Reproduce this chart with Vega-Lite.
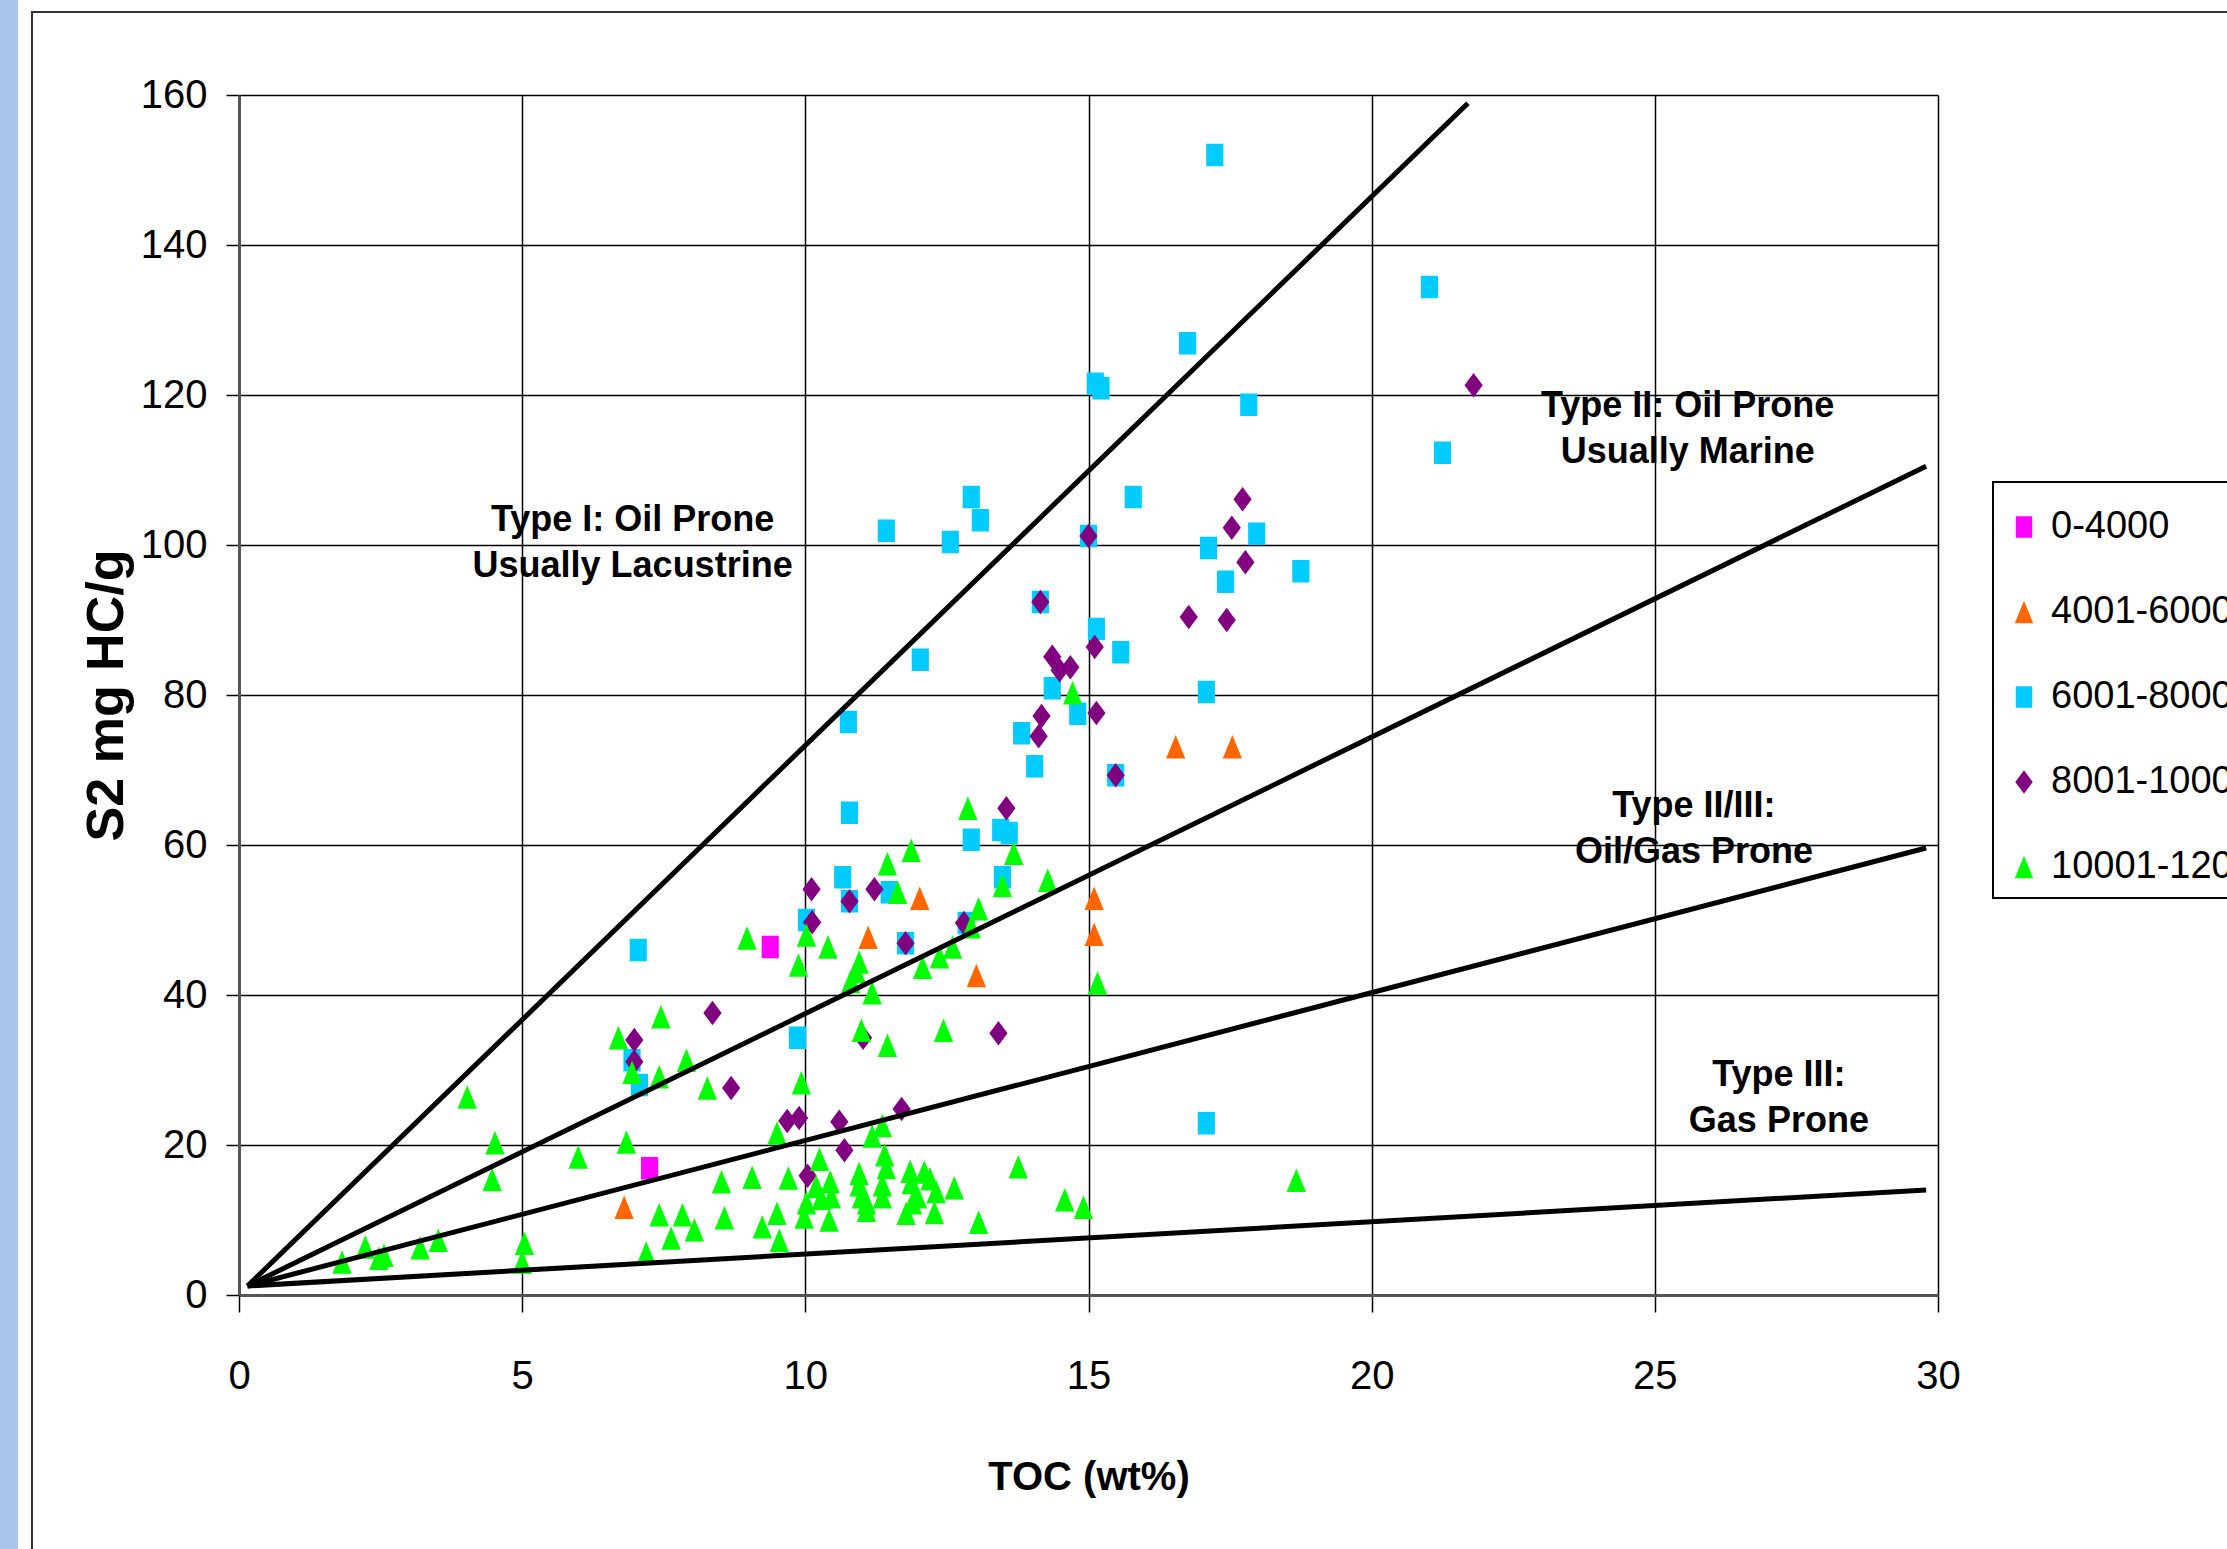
{
  "$schema": "https://vega.github.io/schema/vega-lite/v6.json",
  "width": 1699,
  "height": 1200,
  "autosize": "none",
  "padding": {"left": 239, "top": 95, "right": 289, "bottom": 254},
  "background": "white",
  "config": {
    "view": {"stroke": null},
    "font": "Liberation Sans",
    "axis": {
      "grid": true,
      "gridColor": "black",
      "gridWidth": 1.5,
      "gridOpacity": 1,
      "domainColor": "#555555",
      "domainWidth": 3,
      "tickColor": "black",
      "tickWidth": 1.5,
      "labelColor": "black",
      "labelFont": "Liberation Sans",
      "labelFontSize": 40,
      "labelOverlap": false,
      "labelFlush": false,
      "titleColor": "black",
      "titleFont": "Liberation Sans",
      "titleFontWeight": "bold"
    },
    "axisX": {
      "tickSize": 17,
      "labelPadding": 44,
      "titleFontSize": 40,
      "titleY": 182,
      "titleBaseline": "middle"
    },
    "axisY": {
      "tickSize": 13,
      "labelPadding": 19,
      "titleFontSize": 52,
      "titleAngle": 270,
      "titleX": -117,
      "titleY": 600,
      "titleAlign": "center",
      "titleBaseline": "alphabetic"
    },
    "legend": {
      "orient": "none",
      "legendX": 1754,
      "legendY": 387,
      "padding": 12,
      "strokeColor": "black",
      "strokeWidth": 2,
      "fillColor": "white",
      "titleFontSize": 14,
      "titlePadding": 0,
      "labelFont": "Liberation Sans",
      "labelFontSize": 38,
      "labelColor": "black",
      "labelLimit": 500,
      "symbolSize": 420,
      "rowPadding": 47,
      "labelOffset": 8,
      "symbolStrokeWidth": 0,
      "symbolOpacity": 1
    }
  },
  "datasets": {
    "samples": [
      {"depth": "0-4000", "toc": 9.38, "s2": 46.4},
      {"depth": "0-4000", "toc": 7.25, "s2": 16.9},
      {"depth": "4001-6000", "toc": 16.54, "s2": 73.1},
      {"depth": "4001-6000", "toc": 17.54, "s2": 73.1},
      {"depth": "4001-6000", "toc": 15.1, "s2": 52.9},
      {"depth": "4001-6000", "toc": 15.1, "s2": 48.1},
      {"depth": "4001-6000", "toc": 12.02, "s2": 52.9},
      {"depth": "4001-6000", "toc": 11.11, "s2": 47.7},
      {"depth": "4001-6000", "toc": 13.02, "s2": 42.6},
      {"depth": "4001-6000", "toc": 6.8, "s2": 11.7},
      {"depth": "6001-8000", "toc": 17.23, "s2": 152.0},
      {"depth": "6001-8000", "toc": 21.02, "s2": 134.4},
      {"depth": "6001-8000", "toc": 16.75, "s2": 126.9},
      {"depth": "6001-8000", "toc": 15.12, "s2": 121.5},
      {"depth": "6001-8000", "toc": 15.22, "s2": 120.9},
      {"depth": "6001-8000", "toc": 17.83, "s2": 118.7},
      {"depth": "6001-8000", "toc": 21.25, "s2": 112.3},
      {"depth": "6001-8000", "toc": 12.93, "s2": 106.4},
      {"depth": "6001-8000", "toc": 15.79, "s2": 106.4},
      {"depth": "6001-8000", "toc": 13.09, "s2": 103.3},
      {"depth": "6001-8000", "toc": 11.43, "s2": 101.9},
      {"depth": "6001-8000", "toc": 12.56, "s2": 100.4},
      {"depth": "6001-8000", "toc": 15.0, "s2": 101.2},
      {"depth": "6001-8000", "toc": 17.12, "s2": 99.6},
      {"depth": "6001-8000", "toc": 17.97, "s2": 101.5},
      {"depth": "6001-8000", "toc": 18.75, "s2": 96.5},
      {"depth": "6001-8000", "toc": 17.42, "s2": 95.1},
      {"depth": "6001-8000", "toc": 14.15, "s2": 92.4},
      {"depth": "6001-8000", "toc": 15.14, "s2": 88.8},
      {"depth": "6001-8000", "toc": 15.57, "s2": 85.7},
      {"depth": "6001-8000", "toc": 12.03, "s2": 84.7},
      {"depth": "6001-8000", "toc": 14.36, "s2": 80.9},
      {"depth": "6001-8000", "toc": 17.08, "s2": 80.4},
      {"depth": "6001-8000", "toc": 14.81, "s2": 77.5},
      {"depth": "6001-8000", "toc": 10.76, "s2": 76.4},
      {"depth": "6001-8000", "toc": 13.82, "s2": 74.9},
      {"depth": "6001-8000", "toc": 14.05, "s2": 70.5},
      {"depth": "6001-8000", "toc": 15.48, "s2": 69.3},
      {"depth": "6001-8000", "toc": 10.78, "s2": 64.3},
      {"depth": "6001-8000", "toc": 13.45, "s2": 62.0},
      {"depth": "6001-8000", "toc": 13.6, "s2": 61.6},
      {"depth": "6001-8000", "toc": 12.93, "s2": 60.7},
      {"depth": "6001-8000", "toc": 10.66, "s2": 55.7},
      {"depth": "6001-8000", "toc": 13.48, "s2": 55.7},
      {"depth": "6001-8000", "toc": 11.48, "s2": 53.7},
      {"depth": "6001-8000", "toc": 10.78, "s2": 52.5},
      {"depth": "6001-8000", "toc": 10.02, "s2": 50.0},
      {"depth": "6001-8000", "toc": 12.84, "s2": 49.6},
      {"depth": "6001-8000", "toc": 11.77, "s2": 46.9},
      {"depth": "6001-8000", "toc": 7.05, "s2": 46.0},
      {"depth": "6001-8000", "toc": 9.86, "s2": 34.3},
      {"depth": "6001-8000", "toc": 6.94, "s2": 31.3},
      {"depth": "6001-8000", "toc": 7.07, "s2": 28.0},
      {"depth": "6001-8000", "toc": 17.08, "s2": 22.9},
      {"depth": "8001-10000", "toc": 21.8, "s2": 121.3},
      {"depth": "8001-10000", "toc": 17.72, "s2": 106.1},
      {"depth": "8001-10000", "toc": 17.53, "s2": 102.3},
      {"depth": "8001-10000", "toc": 17.77, "s2": 97.7},
      {"depth": "8001-10000", "toc": 15.0, "s2": 101.2},
      {"depth": "8001-10000", "toc": 14.15, "s2": 92.4},
      {"depth": "8001-10000", "toc": 16.77, "s2": 90.4},
      {"depth": "8001-10000", "toc": 17.44, "s2": 90.0},
      {"depth": "8001-10000", "toc": 15.11, "s2": 86.4},
      {"depth": "8001-10000", "toc": 14.36, "s2": 85.1},
      {"depth": "8001-10000", "toc": 14.49, "s2": 83.3},
      {"depth": "8001-10000", "toc": 14.68, "s2": 83.7},
      {"depth": "8001-10000", "toc": 15.14, "s2": 77.6},
      {"depth": "8001-10000", "toc": 14.17, "s2": 77.2},
      {"depth": "8001-10000", "toc": 14.12, "s2": 74.5},
      {"depth": "8001-10000", "toc": 15.48, "s2": 69.3},
      {"depth": "8001-10000", "toc": 13.55, "s2": 64.9},
      {"depth": "8001-10000", "toc": 10.11, "s2": 54.1},
      {"depth": "8001-10000", "toc": 11.22, "s2": 54.1},
      {"depth": "8001-10000", "toc": 10.78, "s2": 52.5},
      {"depth": "8001-10000", "toc": 10.12, "s2": 49.7},
      {"depth": "8001-10000", "toc": 11.77, "s2": 46.9},
      {"depth": "8001-10000", "toc": 12.8, "s2": 49.6},
      {"depth": "8001-10000", "toc": 8.36, "s2": 37.6},
      {"depth": "8001-10000", "toc": 11.02, "s2": 34.3},
      {"depth": "8001-10000", "toc": 13.41, "s2": 34.9},
      {"depth": "8001-10000", "toc": 6.98, "s2": 34.0},
      {"depth": "8001-10000", "toc": 6.98, "s2": 31.1},
      {"depth": "8001-10000", "toc": 8.69, "s2": 27.6},
      {"depth": "8001-10000", "toc": 9.68, "s2": 23.2},
      {"depth": "8001-10000", "toc": 9.89, "s2": 23.6},
      {"depth": "8001-10000", "toc": 10.6, "s2": 23.1},
      {"depth": "8001-10000", "toc": 11.7, "s2": 24.8},
      {"depth": "8001-10000", "toc": 10.69, "s2": 19.3},
      {"depth": "8001-10000", "toc": 10.04, "s2": 15.9},
      {"depth": "10001-12000", "toc": 14.72, "s2": 80.3},
      {"depth": "10001-12000", "toc": 12.87, "s2": 64.9},
      {"depth": "10001-12000", "toc": 11.87, "s2": 59.3},
      {"depth": "10001-12000", "toc": 13.68, "s2": 58.9},
      {"depth": "10001-12000", "toc": 11.45, "s2": 57.5},
      {"depth": "10001-12000", "toc": 13.48, "s2": 54.6},
      {"depth": "10001-12000", "toc": 14.28, "s2": 55.3},
      {"depth": "10001-12000", "toc": 11.63, "s2": 53.7},
      {"depth": "10001-12000", "toc": 13.06, "s2": 51.5},
      {"depth": "10001-12000", "toc": 12.93, "s2": 49.1},
      {"depth": "10001-12000", "toc": 10.02, "s2": 48.0},
      {"depth": "10001-12000", "toc": 8.97, "s2": 47.6},
      {"depth": "10001-12000", "toc": 10.4, "s2": 46.4},
      {"depth": "10001-12000", "toc": 12.6, "s2": 46.4},
      {"depth": "10001-12000", "toc": 12.37, "s2": 45.1},
      {"depth": "10001-12000", "toc": 12.07, "s2": 43.7},
      {"depth": "10001-12000", "toc": 9.88, "s2": 44.0},
      {"depth": "10001-12000", "toc": 10.95, "s2": 44.4},
      {"depth": "10001-12000", "toc": 10.9, "s2": 43.1},
      {"depth": "10001-12000", "toc": 10.8, "s2": 41.8},
      {"depth": "10001-12000", "toc": 11.18, "s2": 40.3},
      {"depth": "10001-12000", "toc": 15.16, "s2": 41.6},
      {"depth": "10001-12000", "toc": 7.45, "s2": 37.1},
      {"depth": "10001-12000", "toc": 6.7, "s2": 34.3},
      {"depth": "10001-12000", "toc": 10.99, "s2": 35.3},
      {"depth": "10001-12000", "toc": 11.45, "s2": 33.3},
      {"depth": "10001-12000", "toc": 12.44, "s2": 35.3},
      {"depth": "10001-12000", "toc": 7.9, "s2": 31.3},
      {"depth": "10001-12000", "toc": 6.94, "s2": 29.7},
      {"depth": "10001-12000", "toc": 7.42, "s2": 29.1},
      {"depth": "10001-12000", "toc": 8.27, "s2": 27.6},
      {"depth": "10001-12000", "toc": 9.93, "s2": 28.3},
      {"depth": "10001-12000", "toc": 4.03, "s2": 26.4},
      {"depth": "10001-12000", "toc": 9.5, "s2": 21.6},
      {"depth": "10001-12000", "toc": 11.18, "s2": 21.2},
      {"depth": "10001-12000", "toc": 11.36, "s2": 22.6},
      {"depth": "10001-12000", "toc": 4.52, "s2": 20.3},
      {"depth": "10001-12000", "toc": 6.84, "s2": 20.4},
      {"depth": "10001-12000", "toc": 5.99, "s2": 18.4},
      {"depth": "10001-12000", "toc": 10.25, "s2": 18.1},
      {"depth": "10001-12000", "toc": 11.4, "s2": 18.7},
      {"depth": "10001-12000", "toc": 4.47, "s2": 15.4},
      {"depth": "10001-12000", "toc": 13.76, "s2": 17.1},
      {"depth": "10001-12000", "toc": 18.67, "s2": 15.3},
      {"depth": "10001-12000", "toc": 8.52, "s2": 15.1},
      {"depth": "10001-12000", "toc": 9.06, "s2": 15.7},
      {"depth": "10001-12000", "toc": 9.7, "s2": 15.6},
      {"depth": "10001-12000", "toc": 10.19, "s2": 14.5},
      {"depth": "10001-12000", "toc": 10.44, "s2": 15.1},
      {"depth": "10001-12000", "toc": 10.95, "s2": 16.2},
      {"depth": "10001-12000", "toc": 10.95, "s2": 14.7},
      {"depth": "10001-12000", "toc": 11.43, "s2": 17.0},
      {"depth": "10001-12000", "toc": 11.36, "s2": 14.7},
      {"depth": "10001-12000", "toc": 11.85, "s2": 16.5},
      {"depth": "10001-12000", "toc": 11.87, "s2": 15.0},
      {"depth": "10001-12000", "toc": 12.1, "s2": 16.4},
      {"depth": "10001-12000", "toc": 12.2, "s2": 15.5},
      {"depth": "10001-12000", "toc": 12.31, "s2": 13.8},
      {"depth": "10001-12000", "toc": 12.63, "s2": 14.3},
      {"depth": "10001-12000", "toc": 10.02, "s2": 12.3},
      {"depth": "10001-12000", "toc": 10.28, "s2": 12.9},
      {"depth": "10001-12000", "toc": 10.46, "s2": 13.1},
      {"depth": "10001-12000", "toc": 10.99, "s2": 13.1},
      {"depth": "10001-12000", "toc": 11.08, "s2": 12.3},
      {"depth": "10001-12000", "toc": 11.36, "s2": 13.1},
      {"depth": "10001-12000", "toc": 11.89, "s2": 12.3},
      {"depth": "10001-12000", "toc": 11.98, "s2": 13.1},
      {"depth": "10001-12000", "toc": 11.78, "s2": 10.9},
      {"depth": "10001-12000", "toc": 12.28, "s2": 11.0},
      {"depth": "10001-12000", "toc": 9.5, "s2": 10.9},
      {"depth": "10001-12000", "toc": 9.98, "s2": 10.4},
      {"depth": "10001-12000", "toc": 10.42, "s2": 10.0},
      {"depth": "10001-12000", "toc": 11.08, "s2": 11.3},
      {"depth": "10001-12000", "toc": 9.24, "s2": 9.1},
      {"depth": "10001-12000", "toc": 9.54, "s2": 7.3},
      {"depth": "10001-12000", "toc": 13.06, "s2": 9.7},
      {"depth": "10001-12000", "toc": 14.58, "s2": 12.7},
      {"depth": "10001-12000", "toc": 14.91, "s2": 11.7},
      {"depth": "10001-12000", "toc": 7.42, "s2": 10.7},
      {"depth": "10001-12000", "toc": 7.83, "s2": 10.7},
      {"depth": "10001-12000", "toc": 8.04, "s2": 8.7},
      {"depth": "10001-12000", "toc": 7.63, "s2": 7.6},
      {"depth": "10001-12000", "toc": 8.57, "s2": 10.3},
      {"depth": "10001-12000", "toc": 7.19, "s2": 5.6},
      {"depth": "10001-12000", "toc": 1.82, "s2": 4.4},
      {"depth": "10001-12000", "toc": 2.23, "s2": 6.4},
      {"depth": "10001-12000", "toc": 2.47, "s2": 4.9},
      {"depth": "10001-12000", "toc": 2.56, "s2": 5.3},
      {"depth": "10001-12000", "toc": 3.2, "s2": 6.3},
      {"depth": "10001-12000", "toc": 3.52, "s2": 7.3},
      {"depth": "10001-12000", "toc": 5.04, "s2": 6.9},
      {"depth": "10001-12000", "toc": 5.0, "s2": 4.4}
    ],
    "typelines": [
      {"line": "I", "toc": 0.15, "s2": 1.2},
      {"line": "I", "toc": 21.7, "s2": 158.9},
      {"line": "II", "toc": 0.15, "s2": 1.2},
      {"line": "II", "toc": 29.79, "s2": 110.5},
      {"line": "II/III", "toc": 0.15, "s2": 1.2},
      {"line": "II/III", "toc": 29.79, "s2": 59.6},
      {"line": "III", "toc": 0.15, "s2": 1.2},
      {"line": "III", "toc": 29.79, "s2": 14.0}
    ],
    "notes": [
      {"note": "Type I: Oil Prone\nUsually Lacustrine", "toc": 6.95, "s2": 103.4},
      {"note": "Type II: Oil Prone\nUsually Marine", "toc": 25.58, "s2": 118.6},
      {"note": "Type II/III:\nOil/Gas Prone", "toc": 25.69, "s2": 65.2},
      {"note": "Type III:\nGas Prone", "toc": 27.19, "s2": 29.4}
    ],
    "one": [{}]
  },
  "layer": [
    {
      "data": {"name": "one"},
      "mark": {"type": "rect", "fill": "#A9C6EA"},
      "encoding": {
        "x": {"datum": -4.3, "type": "quantitative", "title": "TOC (wt%)", "scale": {"domain": [0, 30], "nice": false, "zero": false}, "axis": {"values": [0, 5, 10, 15, 20, 25, 30]}},
        "x2": {"datum": -3.9},
        "y": {"datum": -60, "type": "quantitative", "title": "S2 mg HC/g", "scale": {"domain": [0, 160], "nice": false}, "axis": {"values": [0, 20, 40, 60, 80, 100, 120, 140, 160]}},
        "y2": {"datum": 250}
      }
    },
    {
      "data": {"name": "one"},
      "mark": {"type": "rect", "fill": "white", "fillOpacity": 0, "stroke": "#333333", "strokeWidth": 2},
      "encoding": {
        "x": {"datum": -3.655, "type": "quantitative", "title": "TOC (wt%)", "scale": {"domain": [0, 30], "nice": false, "zero": false}, "axis": {"values": [0, 5, 10, 15, 20, 25, 30]}},
        "x2": {"datum": 60},
        "y": {"datum": -60, "type": "quantitative", "title": "S2 mg HC/g", "scale": {"domain": [0, 160], "nice": false}, "axis": {"values": [0, 20, 40, 60, 80, 100, 120, 140, 160]}},
        "y2": {"datum": 171.07}
      }
    },
    {
      "data": {"name": "samples"},
      "mark": {"type": "point", "filled": true, "size": 460, "opacity": 1, "strokeWidth": 0},
      "encoding": {
        "x": {"field": "toc", "type": "quantitative", "title": "TOC (wt%)", "scale": {"domain": [0, 30], "nice": false, "zero": false}, "axis": {"values": [0, 5, 10, 15, 20, 25, 30]}},
        "y": {"field": "s2", "type": "quantitative", "title": "S2 mg HC/g", "scale": {"domain": [0, 160], "nice": false}, "axis": {"values": [0, 20, 40, 60, 80, 100, 120, 140, 160]}},
        "color": {
          "field": "depth", "type": "nominal",
          "scale": {
            "domain": ["0-4000", "4001-6000", "6001-8000", "8001-10000", "10001-12000"],
            "range": ["#FF00FF", "#FF6600", "#00CCFF", "#800080", "#00FF00"]
          },
          "legend": {"title": " "}
        },
        "shape": {
          "field": "depth", "type": "nominal",
          "scale": {
            "domain": ["0-4000", "4001-6000", "6001-8000", "8001-10000", "10001-12000"],
            "range": [
              "M-0.8,-1.05L0.8,-1.05L0.8,1.05L-0.8,1.05Z",
              "M0,-1.1L0.9,1.1L-0.9,1.1Z",
              "M-0.8,-1.05L0.8,-1.05L0.8,1.05L-0.8,1.05Z",
              "M0,-1.15L0.85,0L0,1.15L-0.85,0Z",
              "M0,-1.1L0.9,1.1L-0.9,1.1Z"
            ]
          },
          "legend": {"title": " "}
        }
      }
    },
    {
      "data": {"name": "typelines"},
      "mark": {"type": "line", "color": "black", "strokeWidth": 5},
      "encoding": {
        "x": {"field": "toc", "type": "quantitative", "title": "TOC (wt%)", "scale": {"domain": [0, 30], "nice": false, "zero": false}, "axis": {"values": [0, 5, 10, 15, 20, 25, 30]}},
        "y": {"field": "s2", "type": "quantitative", "title": "S2 mg HC/g", "scale": {"domain": [0, 160], "nice": false}, "axis": {"values": [0, 20, 40, 60, 80, 100, 120, 140, 160]}},
        "detail": {"field": "line", "type": "nominal"}
      }
    },
    {
      "data": {"name": "notes"},
      "mark": {
        "type": "text", "font": "Liberation Sans", "fontWeight": "bold", "fontSize": 36,
        "lineBreak": "\n", "lineHeight": 46,
        "align": "center", "baseline": "middle", "color": "black"
      },
      "encoding": {
        "x": {"field": "toc", "type": "quantitative", "title": "TOC (wt%)", "scale": {"domain": [0, 30], "nice": false, "zero": false}, "axis": {"values": [0, 5, 10, 15, 20, 25, 30]}},
        "y": {"field": "s2", "type": "quantitative", "title": "S2 mg HC/g", "scale": {"domain": [0, 160], "nice": false}, "axis": {"values": [0, 20, 40, 60, 80, 100, 120, 140, 160]}},
        "text": {"field": "note", "type": "nominal"}
      }
    }
  ]
}
